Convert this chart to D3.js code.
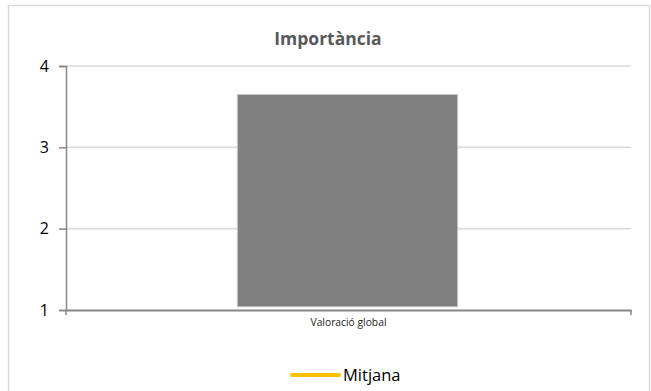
<!DOCTYPE html>
<html>
<head>
<meta charset="utf-8">
<script src="https://cdn.jsdelivr.net/npm/d3@7"></script>
<style>
  html, body { margin: 0; padding: 0; background: #fff; }
  svg { display: block; }
</style>
</head>
<body>
<svg id="chart" width="651" height="391"></svg>
<script>
const categories = ["Valoració global"];
const barValues = [3.65];
const barBase = [1.04];
const yTicks = [1, 2, 3, 4];
const legendLabels = ["Mitjana"];
const title = "Importància";

const svg = d3.select("#chart");
const plot = { left: 66, right: 631, top: 66, bottom: 310 };
const FONT = "'Open Sans', 'Liberation Sans', sans-serif";

// chart border
svg.append("rect")
  .attr("x", 8.5).attr("y", 5.5)
  .attr("width", 641).attr("height", 400)
  .attr("fill", "#fff").attr("stroke", "#d9d9d9").attr("stroke-width", 1.5);

// title
svg.append("text")
  .attr("x", 328).attr("y", 45)
  .attr("text-anchor", "middle")
  .attr("font-family", FONT)
  .attr("font-size", 17.5).attr("font-weight", "bold")
  .attr("fill", "#595959")
  .text(title);

const y = d3.scaleLinear().domain([1, 4]).range([plot.bottom, plot.top]);
const x = d3.scaleBand().domain(categories).range([plot.left, plot.right]).padding(0);

// gridlines
svg.append("g").selectAll("line")
  .data(yTicks.filter(d => d !== 1))
  .join("line")
  .attr("x1", plot.left).attr("x2", plot.right)
  .attr("y1", d => y(d)).attr("y2", d => y(d))
  .attr("stroke", "#d9d9d9").attr("stroke-width", 1.5);

// bars
const barRatio = 0.39;
svg.append("g").selectAll("rect")
  .data(categories.map((c, i) => ({ c, v: barValues[i], b: barBase[i] })))
  .join("rect")
  .attr("x", d => x(d.c) + x.bandwidth() * (1 - barRatio) / 2 - 1)
  .attr("width", x.bandwidth() * barRatio)
  .attr("y", d => y(d.v))
  .attr("height", d => y(d.b) - y(d.v))
  .attr("fill", "#808080")
  .attr("stroke", "#c8c8c8").attr("stroke-width", 1);

// y axis
const yAxis = d3.axisLeft(y).tickValues(yTicks).tickSize(7).tickPadding(10).tickFormat(d3.format("d"));
const gy = svg.append("g").attr("transform", `translate(${plot.left},0)`).call(yAxis);
gy.select(".domain").attr("stroke", "#868686").attr("stroke-width", 1.5);
gy.selectAll(".tick line").attr("stroke", "#868686").attr("stroke-width", 1.5);
gy.selectAll(".tick text")
  .attr("font-family", FONT)
  .attr("font-size", 16).attr("fill", "#000");

// x axis
const xAxis = d3.axisBottom(x).tickSize(0).tickPadding(9);
const gx = svg.append("g").attr("transform", `translate(0,${plot.bottom})`).call(xAxis);
gx.select(".domain").attr("stroke", "#868686").attr("stroke-width", 2);
gx.selectAll(".tick text")
  .attr("font-family", FONT)
  .attr("font-size", 10.3).attr("fill", "#222");
// category boundary ticks
svg.append("g").selectAll("line")
  .data(x.range())
  .join("line")
  .attr("x1", d => d).attr("x2", d => d)
  .attr("y1", plot.bottom).attr("y2", plot.bottom + 5)
  .attr("stroke", "#868686").attr("stroke-width", 1.5);

// legend
const lg = svg.append("g").attr("transform", "translate(292,375)");
lg.append("line")
  .attr("x1", 0).attr("x2", 47).attr("y1", 0).attr("y2", 0)
  .attr("stroke", "#FFC000").attr("stroke-width", 4).attr("stroke-linecap", "round");
lg.append("text")
  .attr("x", 51).attr("y", 6)
  .attr("font-family", FONT)
  .attr("font-size", 16.5).attr("fill", "#000")
  .text(legendLabels[0]);
</script>
</body>
</html>
